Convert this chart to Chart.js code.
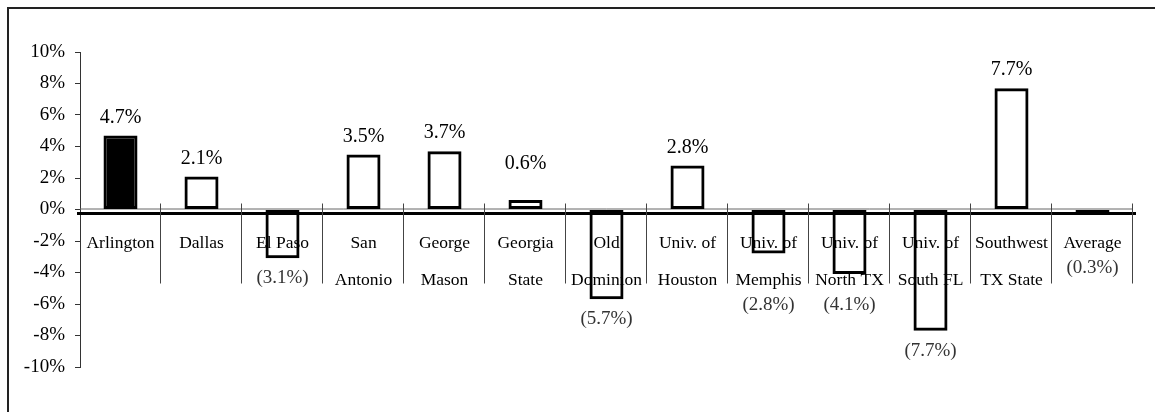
<!DOCTYPE html>
<html>
<head>
<meta charset="utf-8">
<script src="https://cdn.jsdelivr.net/npm/chart.js@4.4.1/dist/chart.umd.min.js"></script>
<style>
  html, body { margin: 0; padding: 0; background: #fff; }
  #wrap { position: relative; width: 1155px; height: 412px; }
</style>
</head>
<body>
<div id="wrap"><canvas id="chart"></canvas></div>
<script>
const categories = [
  'Arlington', 'Dallas', 'El Paso', ['San', 'Antonio'], ['George', 'Mason'],
  ['Georgia', 'State'], ['Old', 'Dominion'], ['Univ. of', 'Houston'],
  ['Univ. of', 'Memphis'], ['Univ. of', 'North TX'], ['Univ. of', 'South FL'],
  ['Southwest', 'TX State'], 'Average'
]
const changes = [4.7, 2.1, -3.1, 3.5, 3.7, 0.6, -5.7, 2.8, -2.8, -4.1, -7.7, 7.7, -0.3]
const yTicks = [-10, -8, -6, -4, -2, 0, 2, 4, 6, 8, 10]
const highlight = 'Arlington'

const serif = '"Liberation Serif", "Times New Roman", serif'
const rowHeight = 37 // line height of the category labels

const fmt = v => v < 0 ? '(' + Math.abs(v).toFixed(1) + '%)' : v.toFixed(1) + '%'

// frame, zero lines and the separators between category labels
const decor = {
  id: 'decor',
  beforeDraw(chart) {
    const ctx = chart.ctx
    ctx.save()
    ctx.strokeStyle = '#222'
    ctx.lineWidth = 2
    ctx.beginPath()
    ctx.moveTo(8, 412)
    ctx.lineTo(8, 8)
    ctx.lineTo(chart.width, 8)
    ctx.stroke()
    ctx.restore()
  },
  beforeDatasetsDraw(chart) {
    const { ctx, chartArea, scales: { x, y } } = chart
    const zero = y.getPixelForValue(0)
    ctx.save()
    ctx.strokeStyle = '#666'
    ctx.lineWidth = 1
    ctx.beginPath()
    ctx.moveTo(chartArea.left, zero - 0.5)
    ctx.lineTo(chartArea.right, zero - 0.5)
    ctx.stroke()

    ctx.strokeStyle = '#000'
    ctx.lineWidth = 3
    ctx.beginPath()
    ctx.moveTo(chartArea.left - 3, zero + 4)
    ctx.lineTo(chartArea.right + 3, zero + 4)
    ctx.stroke()

    const w = x.width / categories.length
    ctx.strokeStyle = '#444'
    ctx.lineWidth = 1
    for (let i = 1; i <= categories.length; i++) {
      const px = Math.round(x.left + i * w) - 0.5
      ctx.beginPath()
      ctx.moveTo(px, zero - 6)
      ctx.lineTo(px, zero + 74)
      ctx.stroke()
    }
    ctx.restore()
  }
}

const barLabels = {
  id: 'barLabels',
  afterDatasetsDraw(chart) {
    const { ctx, scales: { y } } = chart
    const zero = y.getPixelForValue(0)
    const meta = chart.getDatasetMeta(0)
    ctx.save()
    ctx.textAlign = 'center'
    ctx.textBaseline = 'middle'
    meta.data.forEach((bar, i) => {
      const v = changes[i]
      let ty
      if (v >= 0) {
        ctx.font = '20px ' + serif
        ctx.fillStyle = '#000'
        ty = Math.min(bar.y - 18, zero - 46)
      } else {
        // keep below the category label rows
        const lines = Array.isArray(categories[i]) ? categories[i].length : 1
        ctx.font = '19px ' + serif
        ctx.fillStyle = '#333'
        ty = Math.max(bar.y + 20, zero + 22 + lines * rowHeight)
      }
      ctx.fillText(fmt(v), bar.x, ty)
    })
    ctx.restore()
  }
}

new Chart(document.getElementById('chart'), {
  type: 'bar',
  data: {
    labels: categories,
    datasets: [{
      data: changes,
      backgroundColor: ctx => categories[ctx.dataIndex] === highlight ? '#000' : 'rgba(255,255,255,0)',
      borderColor: '#000',
      borderWidth: 3,
      borderSkipped: false,
      barPercentage: 0.42,
      categoryPercentage: 1
    }]
  },
  options: {
    responsive: true,
    maintainAspectRatio: false,
    animation: false,
    layout: { padding: { top: 52, bottom: 45, left: 0, right: 22 } },
    plugins: {
      legend: { display: false },
      tooltip: { enabled: false }
    },
    scales: {
      x: {
        position: { y: 0 },
        grid: { display: false },
        border: { display: false },
        ticks: {
          autoSkip: false,
          maxRotation: 0,
          minRotation: 0,
          padding: 7,
          color: '#000',
          font: { family: serif, size: 17.5, lineHeight: rowHeight / 17.5 }
        }
      },
      y: {
        min: yTicks[0],
        max: yTicks[yTicks.length - 1],
        afterBuildTicks: scale => { scale.ticks = yTicks.map(v => ({ value: v })) },
        afterFit: scale => { scale.width = 80 },
        grid: { drawOnChartArea: false, tickLength: 5, color: '#333' },
        border: { color: '#333', width: 1 },
        ticks: {
          padding: 10,
          color: '#000',
          font: { family: serif, size: 19 },
          callback: v => v + '%'
        }
      }
    }
  },
  plugins: [decor, barLabels]
})
</script>
</body>
</html>
